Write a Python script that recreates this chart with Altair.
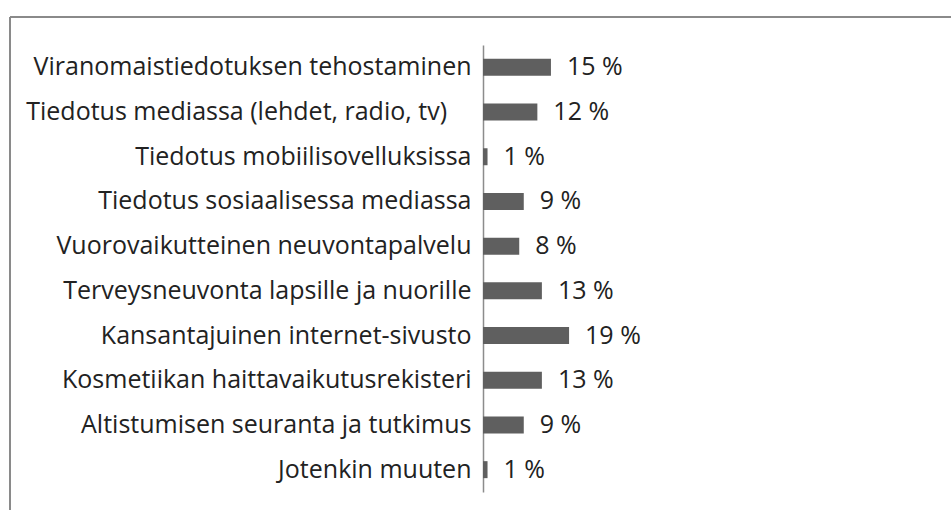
import altair as alt
import pandas as pd

categories = [
    "Viranomaistiedotuksen tehostaminen",
    "Tiedotus mediassa (lehdet, radio, tv)\u00a0\u2800",
    "Tiedotus mobiilisovelluksissa",
    "Tiedotus sosiaalisessa mediassa",
    "Vuorovaikutteinen neuvontapalvelu",
    "Terveysneuvonta lapsille ja nuorille",
    "Kansantajuinen internet-sivusto",
    "Kosmetiikan haittavaikutusrekisteri",
    "Altistumisen seuranta ja tutkimus",
    "Jotenkin muuten",
]
values = [15, 12, 1, 9, 8, 13, 19, 13, 9, 1]
labels = [f"{v} %" for v in values]

df = pd.DataFrame({"cat": categories, "val": values, "lab": labels})

FONT = "Open Sans"
FS = 25

y_enc = alt.Y("cat:N", sort=None, title=None,
              scale=alt.Scale(paddingInner=0.62, paddingOuter=0.31),
              axis=alt.Axis(ticks=False, domainColor="#8c8c8c", domainWidth=1.5,
                            labelFont=FONT, labelFontSize=FS, labelColor="#222222",
                            labelPadding=12, labelLimit=0, labelAlign="right"))
x_enc = alt.X("val:Q", title=None, scale=alt.Scale(domain=[0, 100]), axis=None)

bars = alt.Chart(df).mark_bar(color="#5f5f5f").encode(y=y_enc, x=x_enc)
text = alt.Chart(df).mark_text(align="left", baseline="middle", dx=16,
                               font=FONT, fontSize=FS, color="#222222").encode(
    y=alt.Y("cat:N", sort=None), x="val:Q", text="lab:N")

border_top = alt.Chart(df).mark_rule(color="#8a8a8a", strokeWidth=2).encode(
    x=alt.value(-473), x2=alt.value(470), y=alt.value(-28))
border_left = alt.Chart(df).mark_rule(color="#8a8a8a", strokeWidth=2).encode(
    x=alt.value(-473), y=alt.value(-28), y2=alt.value(470))

chart = alt.layer(border_top, border_left, bars, text).properties(
    width=453, height=447,
    autosize=alt.AutoSizeParams(type="none"),
    padding={"left": 483, "top": 45, "right": 15, "bottom": 18},
    background="white",
).configure_view(stroke=None)

chart.save("out.html", embed_options={"renderer": "svg", "actions": False})
